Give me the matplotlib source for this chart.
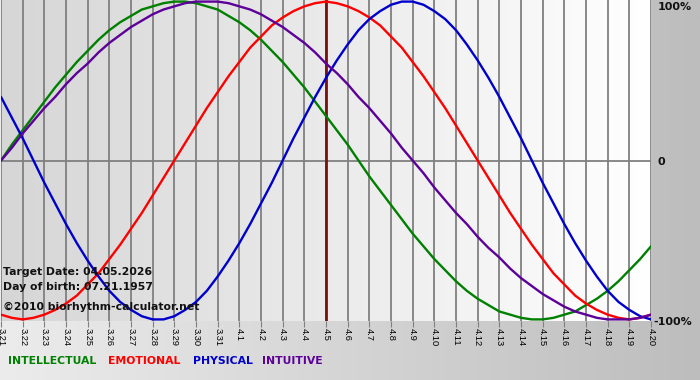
import numpy as np
import matplotlib
matplotlib.use("Agg")
import matplotlib.pyplot as plt
from matplotlib.colors import LinearSegmentedColormap

# days shown (3.21 .. 4.20), target day is 4.5
dates = ["3.21", "3.22", "3.23", "3.24", "3.25", "3.26", "3.27", "3.28", "3.29", "3.30", "3.31",
         "4.1", "4.2", "4.3", "4.4", "4.5", "4.6", "4.7", "4.8", "4.9", "4.10",
         "4.11", "4.12", "4.13", "4.14", "4.15", "4.16", "4.17", "4.18", "4.19", "4.20"]
target = "4.5"
steps_per_day = 2  # curve values are read every half day

# values, -1 .. 1, one every half day from 3.21 to 4.20
intellectual = [0.00, 0.10, 0.19, 0.28, 0.37, 0.46, 0.54, 0.62, 0.69, 0.76, 0.82, 0.87,
                0.91, 0.95, 0.97, 0.99, 1.00, 1.00, 0.99, 0.97, 0.95, 0.91, 0.87, 0.82,
                0.76, 0.69, 0.62, 0.54, 0.46, 0.37, 0.28, 0.19, 0.10, 0.00, -0.10, -0.19,
                -0.28, -0.37, -0.46, -0.54, -0.62, -0.69, -0.76, -0.82, -0.87, -0.91, -0.95,
                -0.97, -0.99, -1.00, -1.00, -0.99, -0.97, -0.95, -0.91, -0.87, -0.82, -0.76,
                -0.69, -0.62, -0.54]
emotional = [-0.97, -0.99, -1.00, -0.99, -0.97, -0.94, -0.90, -0.85, -0.78, -0.71, -0.62,
             -0.53, -0.43, -0.33, -0.22, -0.11, 0.00, 0.11, 0.22, 0.33, 0.43, 0.53, 0.62,
             0.71, 0.78, 0.85, 0.90, 0.94, 0.97, 0.99, 1.00, 0.99, 0.97, 0.94, 0.90, 0.85,
             0.78, 0.71, 0.62, 0.53, 0.43, 0.33, 0.22, 0.11, 0.00, -0.11, -0.22, -0.33,
             -0.43, -0.53, -0.62, -0.71, -0.78, -0.85, -0.90, -0.94, -0.97, -0.99, -1.00,
             -0.99, -0.97]
physical = [0.40, 0.27, 0.14, 0.00, -0.14, -0.27, -0.40, -0.52, -0.63, -0.73, -0.82, -0.89,
            -0.94, -0.98, -1.00, -1.00, -0.98, -0.94, -0.89, -0.82, -0.73, -0.63, -0.52,
            -0.40, -0.27, -0.14, 0.00, 0.14, 0.27, 0.40, 0.52, 0.63, 0.73, 0.82, 0.89, 0.94,
            0.98, 1.00, 1.00, 0.98, 0.94, 0.89, 0.82, 0.73, 0.63, 0.52, 0.40, 0.27, 0.14,
            0.00, -0.14, -0.27, -0.40, -0.52, -0.63, -0.73, -0.82, -0.89, -0.94, -0.98,
            -1.00]
intuitive = [0.00, 0.08, 0.17, 0.25, 0.33, 0.40, 0.48, 0.55, 0.61, 0.68, 0.74, 0.79, 0.84,
             0.88, 0.92, 0.95, 0.97, 0.99, 1.00, 1.00, 1.00, 0.99, 0.97, 0.95, 0.92, 0.88,
             0.84, 0.79, 0.74, 0.68, 0.61, 0.55, 0.48, 0.40, 0.33, 0.25, 0.17, 0.08, 0.00,
             -0.08, -0.17, -0.25, -0.33, -0.40, -0.48, -0.55, -0.61, -0.68, -0.74, -0.79,
             -0.84, -0.88, -0.92, -0.95, -0.97, -0.99, -1.00, -1.00, -1.00, -0.99, -0.97]

series = [("INTELLECTUAL", intellectual, "#008000"),
          ("EMOTIONAL", emotional, "#ff0000"),
          ("PHYSICAL", physical, "#0000cc"),
          ("INTUITIVE", intuitive, "#5c0099")]

W, H = 700, 380
fig = plt.figure(figsize=(W / 100, H / 100), dpi=100)

# figure background: light on the left, grey on the right
bg = fig.add_axes([0, 0, 1, 1], zorder=-10)
bg.imshow(np.linspace(0, 1, 256)[None, :], aspect="auto", extent=[0, 1, 0, 1],
          cmap=LinearSegmentedColormap.from_list("bg", ["#ececec", "#bdbdbd"]))
bg.axis("off")

ax = fig.add_axes([1 / W, 1 - 321 / H, 650 / W, 321 / H])
ndays = len(dates) - 1
ax.set_xlim(0, ndays)
ax.set_ylim(-1.01, 1.01)
ax.imshow(np.linspace(0, 1, 256)[None, :], aspect="auto",
          extent=[0, ndays, -1.01, 1.01], zorder=0,
          cmap=LinearSegmentedColormap.from_list("pl", ["#d6d6d6", "#ffffff"]))

for xi in range(len(dates)):
    ax.axvline(xi, color="#808080", lw=1.3, zorder=1)
ax.axhline(0, color="#808080", lw=1.3, zorder=1)
ax.axvline(dates.index(target), color="#7a1010", lw=2, zorder=2)

for name, vals, col in series:
    xs = np.arange(len(vals)) / steps_per_day
    ax.plot(xs, vals, color=col, lw=1.7, zorder=3, solid_capstyle="round")

for s in ax.spines.values():
    s.set_visible(False)
ax.set_yticks([])
ax.set_xticks(range(len(dates)))
ax.set_xticklabels(dates, rotation=270, fontsize=6.7, family="Liberation Sans")
ax.tick_params(axis="x", length=4, color="#808080", pad=1)

info = dict(fontsize=7.8, fontweight="bold", color="#111111", ha="left", va="center")
fig.text(3 / W, 1 - 272 / H, "Target Date: 04.05.2026", **info)
fig.text(3 / W, 1 - 287 / H, "Day of birth: 07.21.1957", **info)
fig.text(3 / W, 1 - 307 / H, "\u00a92010 biorhythm-calculator.net", **info)

lab = dict(fontsize=8, fontweight="bold", color="#111111", va="center")
fig.text(658 / W, 1 - 7 / H, "100%", ha="left", **lab)
fig.text(657 / W, 1 - 162 / H, "0", ha="left", **lab)
fig.text(653 / W, 1 - 322 / H, "-100%", ha="left", **lab)

legend_x = [8, 108, 193, 262]
for lx, (name, vals, col) in zip(legend_x, series):
    fig.text(lx / W, 1 - 361 / H, name, color=col, fontsize=7.8,
             fontweight="bold", va="center", ha="left")

fig.savefig("out.png", dpi=100)
